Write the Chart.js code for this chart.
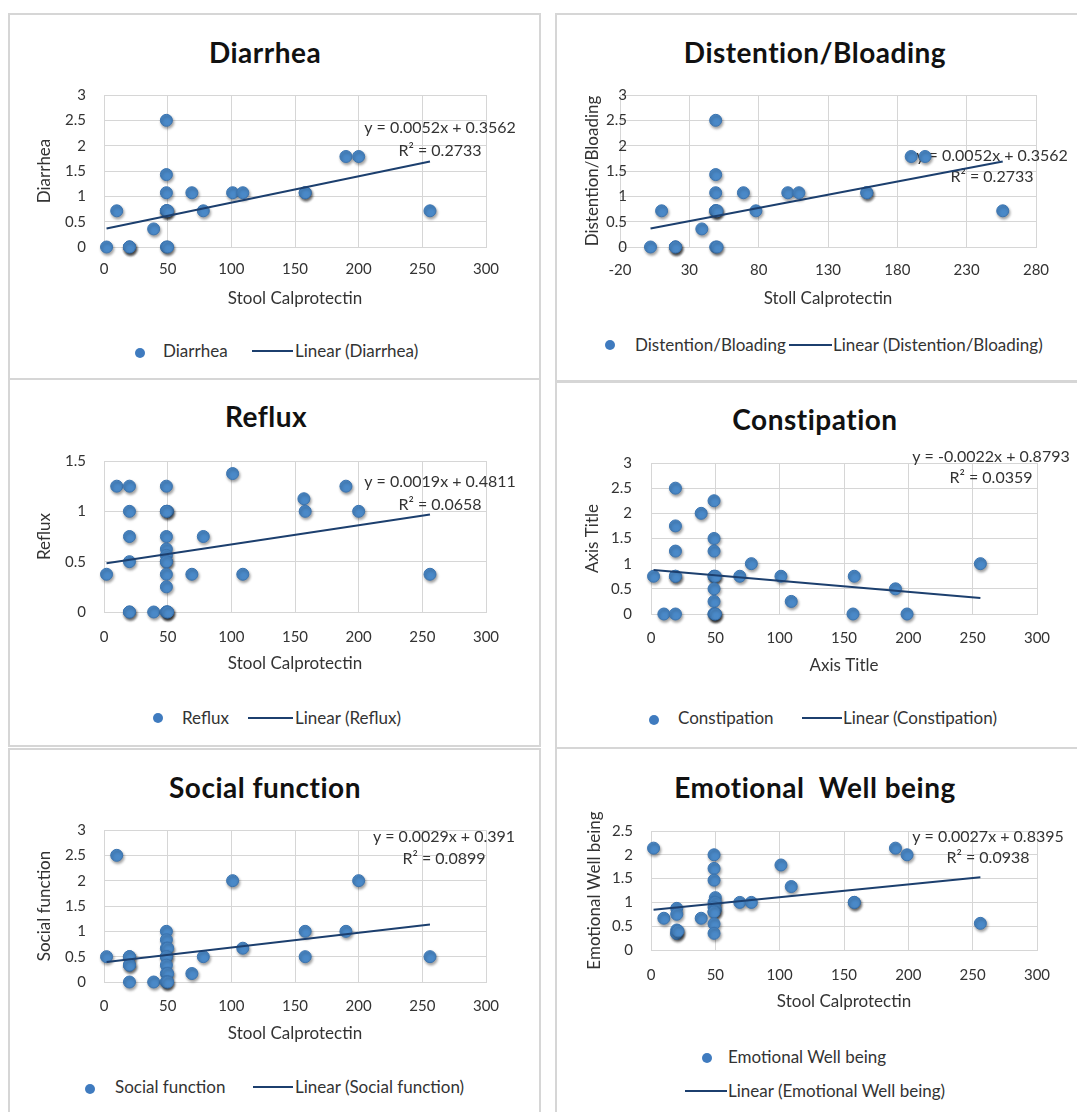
<!DOCTYPE html>
<html>
<head>
<meta charset="utf-8">
<script src="https://cdn.jsdelivr.net/npm/chart.js@4.4.1/dist/chart.umd.min.js"></script>
<style>
  body { margin: 0; background: #fff; }
  #page { position: relative; width: 1077px; height: 1112px; overflow: hidden; background: #fff; font-family: Lato, "Open Sans", sans-serif; }
  .panel { position: absolute; border: 2px solid #d6d6d6; box-sizing: border-box; }
  canvas { position: absolute; }
  .title { position: absolute; font-weight: bold; font-size: 28px; letter-spacing: 0.5px; line-height: 1; white-space: nowrap; transform: translateX(-50%); color: #111; }
  .leg { position: absolute; font-size: 17px; line-height: 17px; white-space: nowrap; color: #333; }
  .dot { position: absolute; width: 10px; height: 10px; border-radius: 50%; background: #3f7bbf; }
  .ln { position: absolute; height: 2px; background: #1c3f6e; }
</style>
</head>
<body>
<div id="page">
  <div class="panel" style="left:8px;top:13px;width:533px;height:367px"></div>
  <div class="panel" style="left:8px;top:378px;width:533px;height:369px"></div>
  <div class="panel" style="left:8px;top:748px;width:533px;height:400px"></div>
  <div class="panel" style="left:555px;top:13px;width:560px;height:369px"></div>
  <div class="panel" style="left:555px;top:381px;width:560px;height:368px"></div>
  <div class="panel" style="left:555px;top:747px;width:560px;height:400px"></div>

  <div class="title" style="left:265px;top:38px">Diarrhea</div>
  <div class="title" style="left:815px;top:38px">Distention/Bloading</div>
  <div class="title" style="left:266px;top:402px">Reflux</div>
  <div class="title" style="left:815px;top:405px">Constipation</div>
  <div class="title" style="left:265px;top:773px">Social function</div>
  <div class="title" style="left:815px;top:773px">Emotional&nbsp; Well being</div>

  <!-- legends -->
  <div class="dot" style="left:135px;top:348px"></div>
  <div class="leg" style="left:163px;top:342px">Diarrhea</div>
  <div class="ln" style="left:252px;top:350px;width:41px"></div>
  <div class="leg" style="left:295px;top:342px">Linear (Diarrhea)</div>

  <div class="dot" style="left:605px;top:340px"></div>
  <div class="leg" style="left:635px;top:336px">Distention/Bloading</div>
  <div class="ln" style="left:789px;top:344px;width:43px"></div>
  <div class="leg" style="left:833px;top:336px">Linear (Distention/Bloading)</div>

  <div class="dot" style="left:153px;top:713px"></div>
  <div class="leg" style="left:182px;top:709px">Reflux</div>
  <div class="ln" style="left:248px;top:717px;width:45px"></div>
  <div class="leg" style="left:295px;top:709px">Linear (Reflux)</div>

  <div class="dot" style="left:649px;top:715px"></div>
  <div class="leg" style="left:678px;top:709px">Constipation</div>
  <div class="ln" style="left:802px;top:717px;width:40px"></div>
  <div class="leg" style="left:843px;top:709px">Linear (Constipation)</div>

  <div class="dot" style="left:85px;top:1084px"></div>
  <div class="leg" style="left:115px;top:1078px">Social function</div>
  <div class="ln" style="left:253px;top:1086px;width:40px"></div>
  <div class="leg" style="left:295px;top:1078px">Linear (Social function)</div>

  <div class="dot" style="left:702px;top:1053px"></div>
  <div class="leg" style="left:728px;top:1048px">Emotional Well being</div>
  <div class="ln" style="left:685px;top:1090px;width:42px"></div>
  <div class="leg" style="left:728px;top:1082px">Linear (Emotional Well being)</div>
</div>

<script>
// tick values
const xTicks = [0, 50, 100, 150, 200, 250, 300];
const distXTicks = [-20, 30, 80, 130, 180, 230, 280];
const yTicks3 = [0, 0.5, 1, 1.5, 2, 2.5, 3];
const refluxYTicks = [0, 0.5, 1, 1.5];
const emoYTicks = [0, 0.5, 1, 1.5, 2, 2.5];

// Diarrhea
const diarrheaX = [2, 10, 20, 20, 20, 39, 49, 49, 49, 49, 49, 49, 50, 49, 50, 69, 78, 101, 109, 158, 158, 190, 200, 256];
const diarrheaY = [0, 0.714, 0, 0, 0, 0.357, 2.5, 1.429, 1.071, 0.714, 0.714, 0.714, 0.714, 0, 0, 1.071, 0.714, 1.071, 1.071, 1.071, 1.071, 1.786, 1.786, 0.714];
const diarrheaFit = [0.0052, 0.3562, 0.2733]; // slope, intercept, R²

// Distention/Bloading
const distentionX = [2, 10, 20, 20, 20, 39, 49, 49, 49, 49, 49, 49, 50, 49, 50, 69, 78, 101, 109, 158, 158, 190, 200, 256];
const distentionY = [0, 0.714, 0, 0, 0, 0.357, 2.5, 1.429, 1.071, 0.714, 0.714, 0.714, 0.714, 0, 0, 1.071, 0.714, 1.071, 1.071, 1.071, 1.071, 1.786, 1.786, 0.714];
const distentionFit = [0.0052, 0.3562, 0.2733];

// Reflux
const refluxX = [2, 10, 20, 20, 20, 20, 20, 20, 39, 49, 49, 50, 49, 49, 49, 49, 49, 49, 49, 49, 49, 50, 49, 50, 69, 78, 101, 109, 157, 158, 190, 200, 256];
const refluxY = [0.375, 1.25, 1.25, 1, 0.75, 0.5, 0, 0, 0, 1.25, 1, 1, 1, 0.75, 0.625, 0.5625, 0.5, 0.5, 0.375, 0.25, 0, 0, 0, 0, 0.375, 0.75, 1.375, 0.375, 1.125, 1, 1.25, 1, 0.375];
const refluxFit = [0.0019, 0.4811, 0.0658];

// Constipation
const constipationX = [2, 10, 19, 19, 19, 19, 19, 19, 39, 49, 49, 49, 49, 49, 50, 49, 49, 49, 50, 49, 50, 69, 78, 101, 109, 158, 157, 190, 199, 256];
const constipationY = [0.75, 0, 2.5, 1.75, 1.25, 0.75, 0.75, 0, 2, 2.25, 1.5, 1.25, 0.75, 0.75, 0.75, 0.5, 0.25, 0, 0, 0, 0, 0.75, 1, 0.75, 0.25, 0.75, 0, 0.5, 0, 1];
const constipationFit = [-0.0022, 0.8793, 0.0359];

// Social function
const socialX = [2, 10, 20, 20, 20, 20, 20, 39, 49, 49, 49, 50, 49, 49, 49, 49, 50, 49, 49, 50, 69, 78, 101, 109, 158, 158, 190, 200, 256];
const socialY = [0.5, 2.5, 0.5, 0.5, 0.333, 0.333, 0, 0, 1, 0.833, 0.667, 0.667, 0.5, 0.5, 0.333, 0.167, 0.167, 0, 0, 0, 0.167, 0.5, 2, 0.667, 1, 0.5, 1, 2, 0.5];
const socialFit = [0.0029, 0.391, 0.0899];

// Emotional Well being
const emotionalX = [2, 10, 20, 20, 20, 20, 20, 21, 39, 49, 49, 49, 50, 49, 50, 49, 50, 49, 49, 49, 49, 69, 78, 101, 109, 158, 158, 190, 199, 256];
const emotionalY = [2.14, 0.667, 0.875, 0.75, 0.42, 0.35, 0.35, 0.4, 0.667, 2, 1.714, 1.467, 1.1, 1, 1, 0.9, 0.85, 0.8, 0.8, 0.55, 0.35, 1, 1, 1.786, 1.333, 1, 1, 2.14, 2, 0.56];
const emotionalFit = [0.0027, 0.8395, 0.0938];

const GRID = '#d6d6d6';
const TXT = '#333333';
Chart.defaults.font.family = 'Lato, "Open Sans", sans-serif';

// equation text drawn behind the markers
const eqPlugin = {
  id: 'eqLabel',
  beforeDatasetsDraw(chart, args, opts) {
    const { ctx, chartArea } = chart;
    ctx.save();
    ctx.font = '16px Lato';
    ctx.fillStyle = TXT;
    ctx.textAlign = 'center';
    ctx.textBaseline = 'middle';
    opts.lines.forEach((t, i) => ctx.fillText(t, chartArea.right + opts.dx, chartArea.top + opts.dy[i]));
    ctx.restore();
  }
};

// soft drop shadow under the markers, like the Excel style
const shadowPlugin = {
  id: 'markerShadow',
  beforeDatasetDraw(chart, args) {
    if (args.index !== 0) return;
    const ctx = chart.ctx;
    ctx.save();
    ctx.shadowColor = 'rgba(0,0,0,0.38)';
    ctx.shadowBlur = 3;
    ctx.shadowOffsetX = 1;
    ctx.shadowOffsetY = 2;
  },
  afterDatasetDraw(chart, args) {
    if (args.index === 0) chart.ctx.restore();
  }
};

function makeChart(g, xs, ys, fit, xt, yt, yTitle, xTitle, label) {
  const [cx, cy, cw, ch] = g.canvas;
  const [al, at, ar, ab] = g.area;
  const xH = 62;
  const canvas = document.createElement('canvas');
  canvas.width = cw;
  canvas.height = ch;
  canvas.style.left = cx + 'px';
  canvas.style.top = cy + 'px';
  document.getElementById('page').appendChild(canvas);

  const x0 = Math.min(...xs), x1 = Math.max(...xs);
  const eq = 'y = ' + fit[0] + 'x + ' + fit[1];

  return new Chart(canvas, {
    type: 'scatter',
    data: {
      datasets: [{
        label: label,
        data: xs.map((x, i) => ({ x: x, y: ys[i] })),
        backgroundColor: '#4a89c8',
        borderColor: '#3b74b0',
        borderWidth: 1,
        pointRadius: 6,
        clip: false,
        order: 2
      }, {
        label: 'Linear (' + label + ')',
        data: [{ x: x0, y: fit[0] * x0 + fit[1] }, { x: x1, y: fit[0] * x1 + fit[1] }],
        showLine: true,
        borderColor: '#1c3f6e',
        borderWidth: 2,
        pointRadius: 0,
        order: 1
      }]
    },
    options: {
      responsive: false,
      animation: false,
      devicePixelRatio: 1,
      layout: { padding: { left: 0, top: at - cy, right: cx + cw - ar, bottom: cy + ch - ab - xH } },
      plugins: {
        legend: { display: false },
        tooltip: { enabled: false },
        eqLabel: { lines: [eq, 'R² = ' + fit[2]], dx: g.eq[0], dy: [g.eq[1], g.eq[2]] }
      },
      scales: {
        x: {
          type: 'linear',
          min: xt[0],
          max: xt[xt.length - 1],
          afterBuildTicks: s => { s.ticks = xt.map(v => ({ value: v })); },
          afterFit: s => { s.height = xH; },
          grid: { color: GRID, drawTicks: false },
          border: { color: GRID },
          ticks: { padding: g.xPad, color: TXT, font: { size: 15 }, callback: v => String(v) },
          title: { display: true, text: xTitle, color: TXT, font: { size: 17 }, padding: { top: 0, bottom: 0 } }
        },
        y: {
          type: 'linear',
          min: yt[0],
          max: yt[yt.length - 1],
          afterBuildTicks: s => { s.ticks = yt.map(v => ({ value: v })); },
          afterFit: s => { s.width = al - cx; },
          grid: { color: GRID, drawTicks: false },
          border: { color: GRID },
          ticks: {
            padding: g.yPad,
            mirror: !!g.mirror,
            crossAlign: g.mirror ? 'far' : 'near',
            color: TXT,
            font: { size: 15 },
            callback: v => String(v)
          },
          title: { display: true, text: yTitle, color: TXT, font: { size: 17 }, padding: { top: g.yTitleX - cx - 10.2, bottom: 0 } }
        }
      }
    },
    plugins: [eqPlugin, shadowPlugin]
  });
}

makeChart({ canvas: [11, 16, 528, 362], area: [104, 95, 486, 247], yTitleX: 45, yPad: 18, xPad: 13, eq: [-46, 33, 56] },
  diarrheaX, diarrheaY, diarrheaFit, xTicks, yTicks3, 'Diarrhea', 'Stool Calprotectin', 'Diarrhea');

// the labels of this one overlap the plot edge a little, so they are mirrored in
makeChart({ canvas: [558, 16, 519, 365], area: [620, 95, 1036, 247], yTitleX: 593, yPad: -14, mirror: true, xPad: 14, eq: [-44, 61, 82] },
  distentionX, distentionY, distentionFit, distXTicks, yTicks3, 'Distention/Bloading', 'Stoll Calprotectin', 'Distention/Bloading');

makeChart({ canvas: [11, 381, 528, 364], area: [104, 461, 486, 612], yTitleX: 45, yPad: 18, xPad: 16, eq: [-46, 21, 44] },
  refluxX, refluxY, refluxFit, xTicks, refluxYTicks, 'Reflux', 'Stool Calprotectin', 'Reflux');

makeChart({ canvas: [558, 384, 519, 363], area: [651, 463, 1037, 614], yTitleX: 593, yPad: 19, xPad: 15, eq: [-46, -6, 15] },
  constipationX, constipationY, constipationFit, xTicks, yTicks3, 'Axis Title', 'Axis Title', 'Constipation');

makeChart({ canvas: [11, 750, 528, 362], area: [104, 830, 486, 982], yTitleX: 45, yPad: 18, xPad: 15, eq: [-42, 7, 29] },
  socialX, socialY, socialFit, xTicks, yTicks3, 'Social function', 'Stool Calprotectin', 'Social function');

makeChart({ canvas: [558, 750, 519, 362], area: [651, 831, 1037, 950], yTitleX: 595, yPad: 18, xPad: 16, eq: [-49, 6, 27] },
  emotionalX, emotionalY, emotionalFit, xTicks, emoYTicks, 'Emotional Well being', 'Stool Calprotectin', 'Emotional Well being');
</script>
</body>
</html>
